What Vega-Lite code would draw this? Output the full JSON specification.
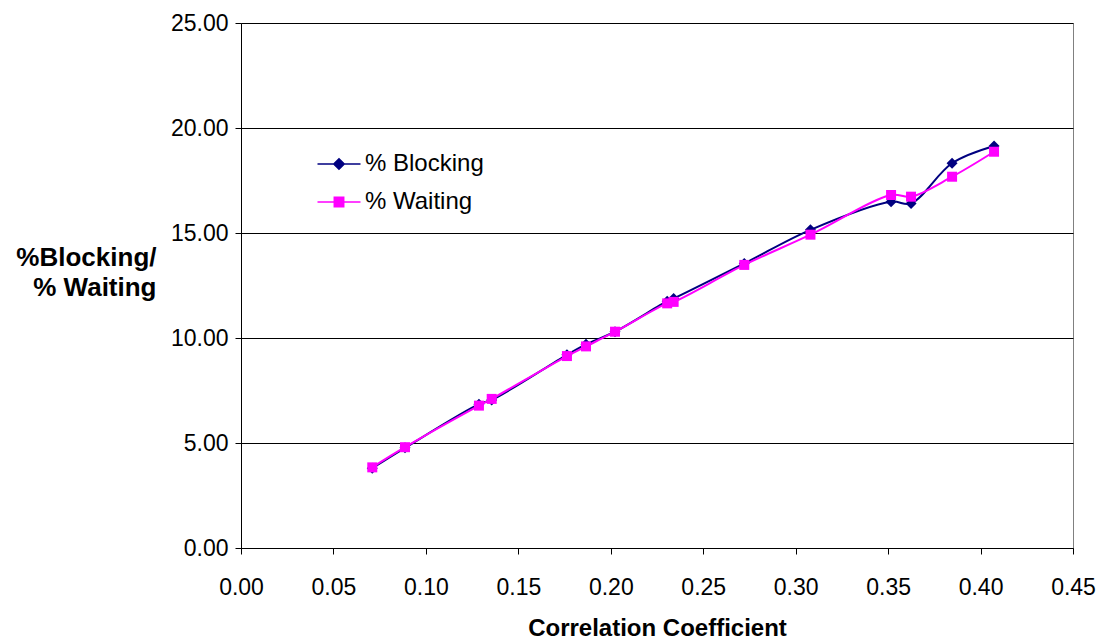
{
  "$schema": "https://vega.github.io/schema/vega-lite/v6.json",
  "width": 832,
  "height": 525,
  "autosize": {"type": "none"},
  "padding": {"left": 241, "top": 23, "right": 33, "bottom": 96},
  "background": "white",
  "config": {
    "font": "Liberation Sans",
    "view": {"stroke": "#808080", "strokeWidth": 1},
    "axis": {
      "labelFont": "Liberation Sans",
      "labelFontSize": 23,
      "labelColor": "#000000",
      "titleFont": "Liberation Sans",
      "titleFontSize": 24,
      "titleFontWeight": "bold",
      "titleColor": "#000000",
      "domainColor": "#000000",
      "tickColor": "#000000",
      "tickSize": 6
    }
  },
  "data": {
    "values": [
      {"cc": 0.0710, "series": "% Blocking", "pct": 3.80},
      {"cc": 0.0887, "series": "% Blocking", "pct": 4.77},
      {"cc": 0.1287, "series": "% Blocking", "pct": 6.85},
      {"cc": 0.1356, "series": "% Blocking", "pct": 7.05},
      {"cc": 0.1763, "series": "% Blocking", "pct": 9.20},
      {"cc": 0.1866, "series": "% Blocking", "pct": 9.70},
      {"cc": 0.2023, "series": "% Blocking", "pct": 10.30},
      {"cc": 0.2305, "series": "% Blocking", "pct": 11.75},
      {"cc": 0.2340, "series": "% Blocking", "pct": 11.88},
      {"cc": 0.2722, "series": "% Blocking", "pct": 13.55},
      {"cc": 0.3080, "series": "% Blocking", "pct": 15.15},
      {"cc": 0.3516, "series": "% Blocking", "pct": 16.49},
      {"cc": 0.3624, "series": "% Blocking", "pct": 16.41},
      {"cc": 0.3846, "series": "% Blocking", "pct": 18.32},
      {"cc": 0.4073, "series": "% Blocking", "pct": 19.14},
      {"cc": 0.0710, "series": "% Waiting", "pct": 3.84},
      {"cc": 0.0887, "series": "% Waiting", "pct": 4.80},
      {"cc": 0.1287, "series": "% Waiting", "pct": 6.78},
      {"cc": 0.1356, "series": "% Waiting", "pct": 7.10},
      {"cc": 0.1763, "series": "% Waiting", "pct": 9.14},
      {"cc": 0.1866, "series": "% Waiting", "pct": 9.60},
      {"cc": 0.2023, "series": "% Waiting", "pct": 10.30},
      {"cc": 0.2305, "series": "% Waiting", "pct": 11.65},
      {"cc": 0.2340, "series": "% Waiting", "pct": 11.72},
      {"cc": 0.2722, "series": "% Waiting", "pct": 13.48},
      {"cc": 0.3080, "series": "% Waiting", "pct": 14.92},
      {"cc": 0.3516, "series": "% Waiting", "pct": 16.81},
      {"cc": 0.3624, "series": "% Waiting", "pct": 16.73},
      {"cc": 0.3846, "series": "% Waiting", "pct": 17.68},
      {"cc": 0.4073, "series": "% Waiting", "pct": 18.87}
    ]
  },
  "encoding": {
    "x": {
      "field": "cc",
      "type": "quantitative",
      "scale": {"domain": [0, 0.45], "nice": false, "zero": false},
      "axis": {
        "values": [0, 0.05, 0.1, 0.15, 0.2, 0.25, 0.3, 0.35, 0.4, 0.45],
        "format": ".2f",
        "grid": false,
        "title": "Correlation Coefficient",
        "labelPadding": 22,
        "titlePadding": 17,
        "labelFlush": false
      }
    },
    "y": {
      "field": "pct",
      "type": "quantitative",
      "scale": {"domain": [0, 25], "nice": false},
      "axis": {
        "values": [0, 5, 10, 15, 20, 25],
        "format": ".2f",
        "grid": true,
        "gridColor": "#000000",
        "gridOpacity": 1,
        "gridWidth": 1,
        "title": ["%Blocking/", "% Waiting"],
        "titleFontSize": 26,
        "titleAngle": 0,
        "titleAlign": "right",
        "titleBaseline": "top",
        "titleX": -85,
        "titleY": 221,
        "titleLineHeight": 30,
        "labelPadding": 7,
        "labelFlush": false
      }
    },
    "color": {
      "field": "series",
      "type": "nominal",
      "scale": {"domain": ["% Blocking", "% Waiting"], "range": ["#000080", "#FF00FF"]},
      "legend": {
        "orient": "none",
        "legendX": 86,
        "legendY": 129,
        "title": null,
        "labelFont": "Liberation Sans",
        "labelFontSize": 24,
        "labelColor": "#000000",
        "labelOffset": 14,
        "symbolSize": 110,
        "rowPadding": 14,
        "symbolType": "M-4.1,0H4.1",
        "encode": {
          "symbols": {
            "update": {
              "shape": {"signal": "datum.value === '% Blocking' ? 'M-4.1,0H4.1M0,-1L1,0L0,1L-1,0Z' : 'M-4.1,0H4.1M-0.9,-0.9H0.9V0.9H-0.9Z'"},
              "stroke": {"signal": "datum.value === '% Blocking' ? '#000080' : '#FF00FF'"},
              "fill": {"signal": "datum.value === '% Blocking' ? '#000080' : '#FF00FF'"},
              "strokeWidth": {"value": 1.5},
              "opacity": {"value": 1}
            }
          }
        }
      }
    }
  },
  "layer": [
    {
      "transform": [{"filter": "datum.series === '% Blocking'"}],
      "mark": {"type": "line", "interpolate": "catmull-rom", "strokeWidth": 2}
    },
    {
      "transform": [{"filter": "datum.series === '% Blocking'"}],
      "mark": {"type": "point", "shape": "diamond", "filled": true, "size": 121, "opacity": 1}
    },
    {
      "transform": [{"filter": "datum.series === '% Waiting'"}],
      "mark": {"type": "line", "interpolate": "catmull-rom", "strokeWidth": 2}
    },
    {
      "transform": [{"filter": "datum.series === '% Waiting'"}],
      "mark": {"type": "point", "shape": "square", "filled": true, "size": 100, "opacity": 1}
    }
  ]
}
